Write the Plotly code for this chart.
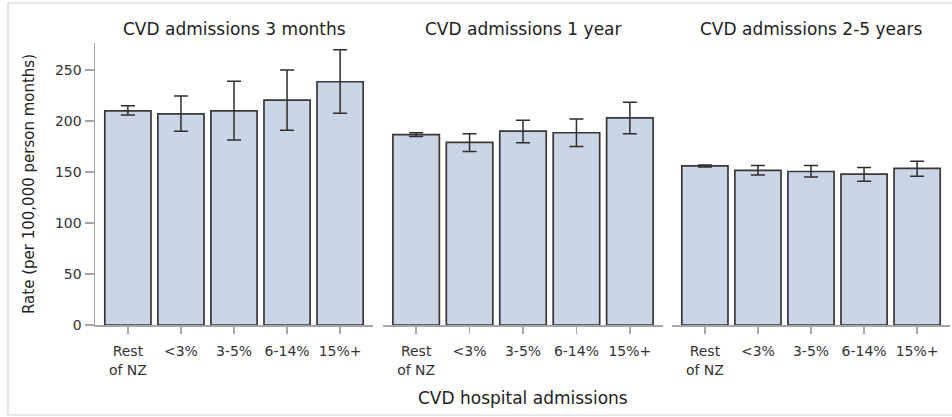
import plotly.graph_objects as go

categories = ["Rest<br>of NZ", "<3%", "3-5%", "6-14%", "15%+"]
panel_titles = ["CVD admissions 3 months", "CVD admissions 1 year", "CVD admissions 2-5 years"]

rate_3m = [210, 207, 210, 220.5, 238.5]
upper_3m = [215, 224.5, 239, 250, 270]
lower_3m = [206, 190, 181.5, 191, 207.5]

rate_1y = [186.6, 179, 190, 188.5, 203]
upper_1y = [188.5, 187.5, 200.7, 202, 218.5]
lower_1y = [184.8, 170, 178.7, 175, 187.5]

rate_25y = [156, 151.6, 150.5, 148, 153.5]
upper_25y = [157, 156.5, 156.5, 154.5, 160.5]
lower_25y = [155, 147, 145, 141, 145.8]

y_ticks = [0, 50, 100, 150, 200, 250]

series = [(rate_3m, upper_3m, lower_3m), (rate_1y, upper_1y, lower_1y), (rate_25y, upper_25y, lower_25y)]

W, H = 952, 417
FONT = "DejaVu Sans"
BAR_FILL = "#CAD5E5"
BAR_LINE = "#383838"
AXIS_COL = "#A6A6A6"

px_domains = [(95, 373), (383, 663), (672, 950)]
y_top, y_bot = 43, 325
ydom = [(H - y_bot) / H, (H - y_top) / H]

fig = go.Figure()
for i, (vals, up, lo) in enumerate(series):
    err_plus = [u - v for u, v in zip(up, vals)]
    err_minus = [v - l for l, v in zip(lo, vals)]
    fig.add_trace(go.Bar(
        x=list(range(len(categories))), y=vals,
        xaxis=f"x{i+1 if i else ''}", yaxis=f"y{i+1 if i else ''}",
        marker=dict(color=BAR_FILL, line=dict(color=BAR_LINE, width=1.7)),
        error_y=dict(type="data", symmetric=False, array=err_plus, arrayminus=err_minus,
                     color="#2E2E2E", thickness=1.5, width=7),
        showlegend=False, hoverinfo="skip",
    ))

layout = dict(
    template="none",
    width=W, height=H, margin=dict(l=0, r=0, t=0, b=0, autoexpand=False),
    paper_bgcolor="white", plot_bgcolor="white", bargap=0.13,
    font=dict(family=FONT, size=14, color="#333333"),
)
for i, (a, b) in enumerate(px_domains):
    sfx = str(i + 1) if i else ""
    layout[f"xaxis{sfx}"] = dict(
        domain=[a / W, b / W], range=[-0.62, 4.62], anchor=f"y{sfx}", automargin=False,
        tickmode="array", tickvals=list(range(len(categories))), ticktext=categories,
        showline=True, linecolor=AXIS_COL, linewidth=1.5, ticks="outside", ticklen=7,
        tickcolor=AXIS_COL, tickwidth=1.5, showgrid=False, zeroline=False, ticklabelstandoff=6,
        tickfont=dict(family=FONT, size=14, color="#333333"), fixedrange=True,
    )
    layout[f"yaxis{sfx}"] = dict(
        domain=ydom, range=[0, 276.5], anchor=f"x{sfx}", automargin=False,
        showgrid=False, zeroline=False, fixedrange=True,
        showline=(i == 0), linecolor=AXIS_COL, linewidth=1.5,
        ticks="outside" if i == 0 else "", ticklen=9, tickcolor=AXIS_COL, tickwidth=1.5,
        tickvals=y_ticks, showticklabels=(i == 0),
        tickfont=dict(family=FONT, size=14, color="#333333"),
    )
fig.update_layout(**layout)

ann = []
for i, (a, b) in enumerate(px_domains):
    ann.append(dict(text=panel_titles[i], x=(a + b) / 2 / W, y=(H - 29) / H, xref="paper", yref="paper",
                    showarrow=False, xanchor="center", yanchor="middle",
                    font=dict(family=FONT, size=17, color="#222222")))
ann.append(dict(text="Rate (per 100,000 person months)", x=29 / W, y=(H - 184) / H, xref="paper", yref="paper",
                showarrow=False, textangle=-90, xanchor="center", yanchor="middle",
                font=dict(family=FONT, size=15, color="#222222")))
ann.append(dict(text="CVD hospital admissions", x=522.5 / W, y=(H - 398) / H, xref="paper", yref="paper",
                showarrow=False, xanchor="center", yanchor="middle",
                font=dict(family=FONT, size=17, color="#222222")))
fig.update_layout(annotations=ann)

fig.add_shape(type="rect", xref="paper", yref="paper", x0=8 / W, x1=1.02, y0=(H - 415) / H, y1=(H - 3) / H,
              line=dict(color="#D4D4D4", width=1.2), fillcolor="rgba(0,0,0,0)", layer="below")

fig.write_html("out.html", config={"displayModeBar": False, "staticPlot": True},
               post_script="document.body.style.margin='0';document.body.style.overflow='hidden';")
